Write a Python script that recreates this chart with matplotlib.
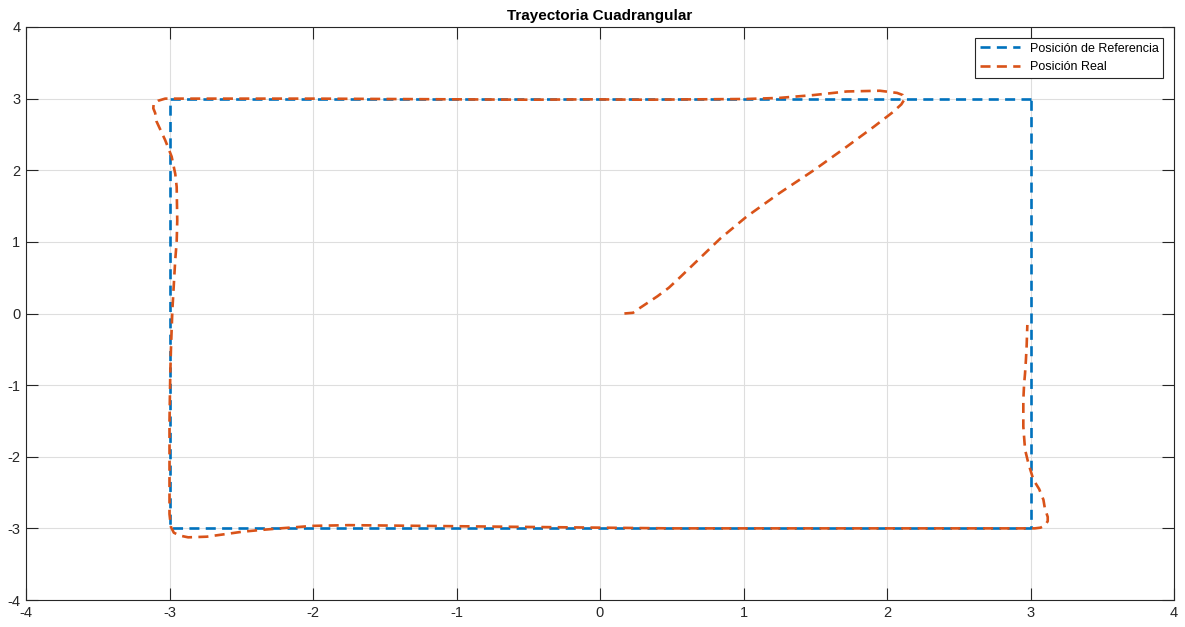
import numpy as np
import matplotlib.pyplot as plt

plt.rcParams['font.family'] = ['Liberation Sans', 'DejaVu Sans']
plt.rcParams['axes.unicode_minus'] = False

# reference square (clockwise from top-right)
ref_x = [3, -3, -3, 3, 3]
ref_y = [3, 3, -3, -3, 3]

# real robot position
real_x = [0.17, 0.23, 0.28, 0.34, 0.40, 0.48, 0.56, 0.70, 0.84, 1.02, 1.25, 1.49,
          1.72, 1.91, 2.04, 2.10, 2.125, 2.11, 2.07, 1.95, 1.72, 1.49, 1.25, 1.02,
          0.67, 0.30, -0.05, -0.50, -1.00, -1.50, -2.00, -2.50, -2.90, -3.03, -3.08,
          -3.11, -3.113, -3.10, -3.09, -3.06, -3.03, -2.985, -2.96, -2.95, -2.946,
          -2.95, -2.96, -2.97, -2.98, -2.99, -2.995, -3.0, -3.0, -3.0, -2.99, -2.97,
          -2.93, -2.87, -2.74, -2.61, -2.49, -2.35, -2.23, -2.0, -1.75, -1.50, -1.00,
          -0.50, 0.00, 0.50, 1.00, 1.50, 2.00, 2.50, 2.90, 3.03, 3.07, 3.10, 3.12,
          3.12, 3.10, 3.09, 3.06, 3.02, 2.985, 2.962, 2.95, 2.95, 2.955, 2.962,
          2.968, 2.973, 2.978]
real_y = [0.00, 0.01, 0.08, 0.16, 0.24, 0.36, 0.51, 0.78, 1.05, 1.35, 1.68, 2.00,
          2.33, 2.61, 2.81, 2.92, 3.00, 3.05, 3.08, 3.11, 3.10, 3.05, 3.01, 2.995,
          2.99, 2.985, 2.99, 2.985, 2.99, 2.995, 3.00, 3.00, 3.00, 3.00, 2.97,
          2.93, 2.865, 2.80, 2.68, 2.55, 2.42, 2.19, 1.95, 1.77, 1.30,
          1.00, 0.75, 0.40, 0.05, -0.50, -0.88, -1.50, -2.18, -2.80, -2.98, -3.06,
          -3.10, -3.125, -3.116, -3.08, -3.046, -3.02, -3.00, -2.965, -2.955, -2.96, -2.97,
          -2.98, -2.99, -3.00, -3.00, -3.00, -3.00, -3.00, -3.00, -3.00, -2.99, -2.96, -2.90,
          -2.84, -2.72, -2.60, -2.45, -2.32, -2.09, -1.90, -1.58, -1.21, -1.00, -0.835,
          -0.65, -0.46, -0.16]

blue = '#0072BD'
orange = '#D95319'

fig = plt.figure(figsize=(11.85, 6.27), dpi=100)
ax = fig.add_axes([26 / 1185, 1 - 600 / 627, 1148 / 1185, 573 / 627])

ax.plot(ref_x, ref_y, color=blue, lw=1.9, dashes=(3.8, 2.4), label='Posición de Referencia')
ax.plot(real_x, real_y, color=orange, lw=1.9, dashes=(3.8, 2.4), label='Posición Real')

ax.set_xlim(-4, 4)
ax.set_ylim(-4, 4)
ax.set_xticks(np.arange(-4, 5, 1))
ax.set_yticks(np.arange(-4, 5, 1))
ax.grid(True, color='#dedede', lw=0.8)
ax.set_axisbelow(True)
ax.tick_params(direction='in', length=8.5, width=0.8, labelsize=10.5, colors='#262626',
               top=True, right=True, pad=4)
for s in ax.spines.values():
    s.set_color('#262626')
    s.set_linewidth(0.8)

ax.set_title('Trayectoria Cuadrangular', fontsize=11, fontweight='bold', pad=5)

leg = ax.legend(loc='upper right', fontsize=9, fancybox=False, framealpha=1,
                edgecolor='#262626', borderaxespad=0.85, handlelength=3.2)
leg.get_frame().set_linewidth(0.8)

fig.savefig('out.png', dpi=100)
